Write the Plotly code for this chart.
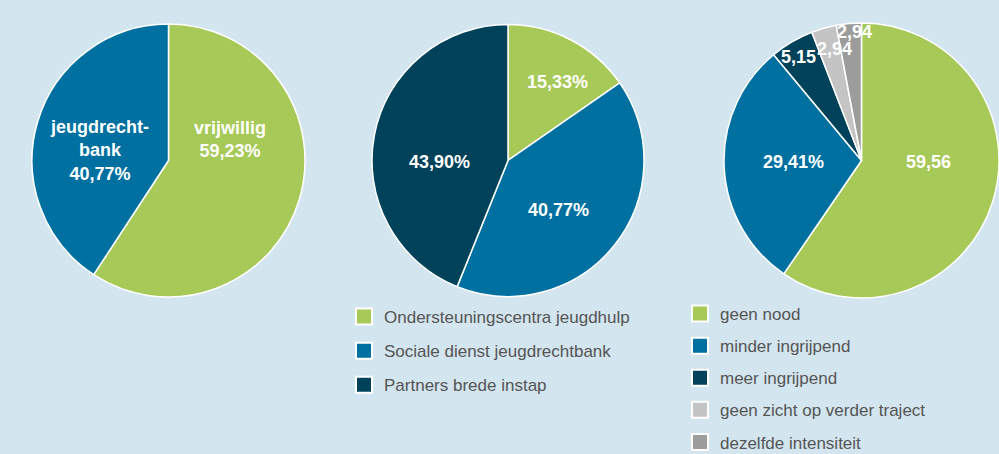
import plotly.graph_objects as go

W, H = 999, 454
BG = "#d3e5ef"
GREEN = "#a6c957"
BLUE = "#0070a1"
DARK = "#00425a"
LGRAY = "#c4c4c4"
GRAY = "#9c9c9c"
TEXT_GRAY = "#555555"

# ---- data ----
pie1_labels = ["vrijwillig", "jeugdrechtbank"]
pie1_display = ["vrijwillig", "jeugdrecht-<br>bank"]
pie1_values = [59.23, 40.77]

pie2_labels = ["Ondersteuningscentra jeugdhulp", "Sociale dienst jeugdrechtbank", "Partners brede instap"]
pie2_values = [15.33, 40.77, 43.90]

pie3_labels = ["geen nood", "minder ingrijpend", "meer ingrijpend",
               "geen zicht op verder traject", "dezelfde intensiteit"]
pie3_values = [59.56, 29.41, 5.15, 2.94, 2.94]
pie3_percent_sign = [False, True, False, False, False]

colors1 = [GREEN, BLUE]
colors2 = [GREEN, BLUE, DARK]
colors3 = [GREEN, BLUE, DARK, LGRAY, GRAY]


def fmt(v, pct=True):
    return f"{v:.2f}".replace(".", ",") + ("%" if pct else "")


def px(x):
    return x / W


def py(y):
    return 1 - y / H


fig = go.Figure()

common = dict(sort=False, direction="clockwise", rotation=0, textinfo="none",
              hoverinfo="skip", showlegend=False)

fig.add_trace(go.Pie(labels=pie1_labels, values=pie1_values,
                     marker=dict(colors=colors1, line=dict(color="white", width=1.5)),
                     domain=dict(x=[px(32), px(305)], y=[py(297), py(24)]), **common))
fig.add_trace(go.Pie(labels=pie2_labels, values=pie2_values,
                     marker=dict(colors=colors2, line=dict(color="white", width=1.5)),
                     domain=dict(x=[px(372), px(644)], y=[py(297), py(24)]), **common))
fig.add_trace(go.Pie(labels=pie3_labels, values=pie3_values,
                     marker=dict(colors=colors3, line=dict(color="white", width=1.5)),
                     domain=dict(x=[px(724), px(999)], y=[py(298), py(23)]), **common))

# legend entries
for lab, col in zip(pie2_labels, colors2):
    fig.add_trace(go.Scatter(x=[None], y=[None], mode="markers", name=lab,
                             legend="legend", legendgroup="a" + lab,
                             marker=dict(symbol="square", size=16, color=col,
                                         line=dict(color="white", width=2)),
                             hoverinfo="skip"))
for lab, col in zip(pie3_labels, colors3):
    fig.add_trace(go.Scatter(x=[None], y=[None], mode="markers", name=lab,
                             legend="legend2", legendgroup="b" + lab,
                             marker=dict(symbol="square", size=16, color=col,
                                         line=dict(color="white", width=2)),
                             hoverinfo="skip"))

# slice labels
label_font = dict(family="Liberation Sans, Arial, sans-serif", size=18, color="white", weight="bold")
texts = [
    (pie1_display[0] + "<br>" + fmt(pie1_values[0]), 230, 139),
    (pie1_display[1] + "<br>" + fmt(pie1_values[1]), 99, 150),
    (fmt(pie2_values[0]), 557, 82),
    (fmt(pie2_values[1]), 558, 210),
    (fmt(pie2_values[2]), 439, 162),
]
pos3 = [(928, 162), (793, 162), (798, 57), (834, 49), (854, 32)]
for v, pc, (x, y) in zip(pie3_values, pie3_percent_sign, pos3):
    texts.append((fmt(v, pc), x, y))

annotations = []
for t, x, y in texts:
    annotations.append(dict(text=t, x=px(x), y=py(y), xref="paper", yref="paper",
                            xanchor="center", yanchor="middle", showarrow=False,
                            font=label_font, align="center"))

legend_font = dict(family="Liberation Sans, Arial, sans-serif", size=17, color=TEXT_GRAY)

fig.update_layout(
    width=W, height=H,
    margin=dict(l=0, r=0, t=0, b=0, autoexpand=False),
    paper_bgcolor=BG, plot_bgcolor=BG,
    xaxis=dict(visible=False), yaxis=dict(visible=False),
    annotations=annotations,
    legend=dict(x=px(344), y=py(299), xanchor="left", yanchor="top",
                font=legend_font, bgcolor="rgba(0,0,0,0)", traceorder="grouped",
                tracegroupgap=9, itemclick=False, itemdoubleclick=False),
    legend2=dict(x=px(680), y=py(296), xanchor="left", yanchor="top",
                 font=legend_font, bgcolor="rgba(0,0,0,0)", traceorder="grouped",
                 tracegroupgap=7, itemclick=False, itemdoubleclick=False),
    showlegend=True,
)

fig.write_html("out.html", config={"displayModeBar": False},
               post_script="document.body.style.margin='0';document.body.style.overflow='hidden';")
